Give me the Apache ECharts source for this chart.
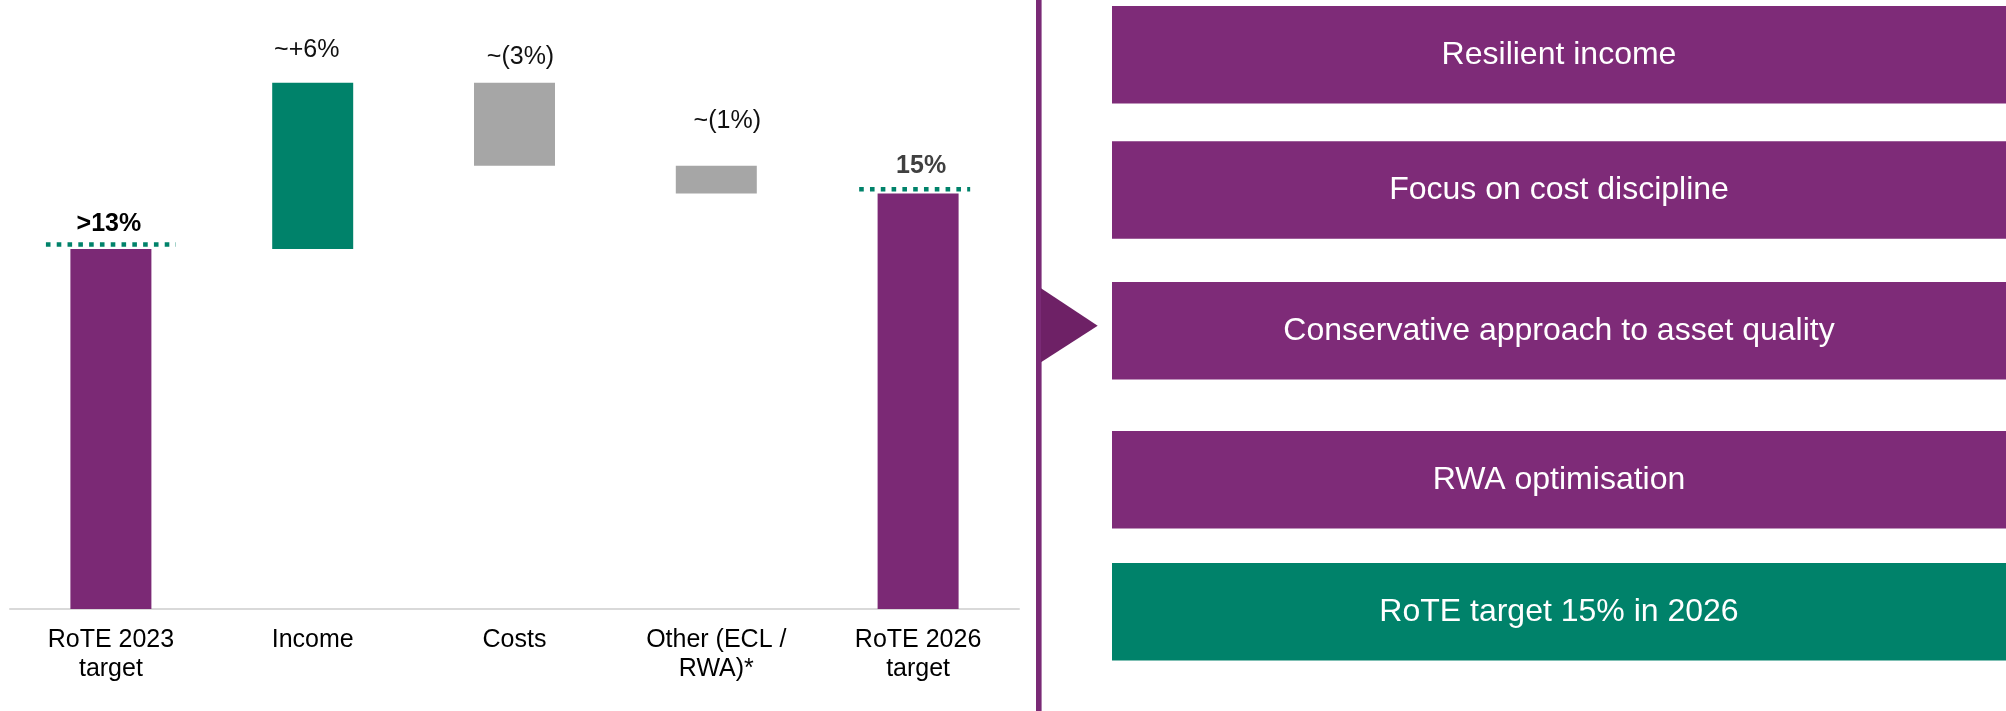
<!DOCTYPE html>
<html>
<head>
<meta charset="utf-8">
<title>RoTE bridge 2023 to 2026</title>
<script src="https://cdn.jsdelivr.net/npm/echarts@6/dist/echarts.min.js"></script>
<style>
  html, body { margin: 0; padding: 0; background: #ffffff; }
  #chart { width: 2006px; height: 711px; }
</style>
</head>
<body>
<div id="chart"></div>
<script>
// Bridge steps: totals are absolute RoTE levels (%), the rest are changes in percentage points
const categories = ['RoTE 2023\ntarget', 'Income', 'Costs', 'Other (ECL /\nRWA)*', 'RoTE 2026\ntarget'];
const changes = [13, 6, -3, -1, 15];
const isTotal = [true, false, false, false, true];
const valueLabels = ['>13%', '~+6%', '~(3%)', '~(1%)', '15%'];

// Levers listed beside the bridge
const drivers = [
  'Resilient income',
  'Focus on cost discipline',
  'Conservative approach to asset quality',
  'RWA optimisation',
  'RoTE target 15% in 2026'
];

const PURPLE = '#7B2975';
const BOX_PURPLE = '#7E2B78';
const GREEN = '#00826A';
const GREY = '#A6A6A6';
const FONT = '"Liberation Sans", Arial, Helvetica, sans-serif';

// Floating-bar geometry: invisible base + visible segment
const bases = [];
const heights = [];
const kinds = [];
let running = 0;
changes.forEach((v, i) => {
  if (isTotal[i]) {
    bases.push(0); heights.push(v); kinds.push('total'); running = v;
  } else if (v >= 0) {
    bases.push(running); heights.push(v); kinds.push('up'); running += v;
  } else {
    running += v; bases.push(running); heights.push(-v); kinds.push('down');
  }
});

const kindColor = { total: PURPLE, up: GREEN, down: GREY };

// Label nudges (px) and label styling
const labelNudge = [[-2, -12], [-6, -20], [6, -13], [11, -32], [3, -15]];
const labelStyle = [
  { fontWeight: 'bold', fontSize: 25, color: '#000000' },
  { fontWeight: 'normal', fontSize: 25, color: '#111111' },
  { fontWeight: 'normal', fontSize: 25, color: '#111111' },
  { fontWeight: 'normal', fontSize: 25, color: '#111111' },
  { fontWeight: 'bold', fontSize: 25, color: '#404040' }
];

// Dotted target markers over the total bars, span as fraction of the category band
const markerSpan = { 0: [-0.322, 0.322], 4: [-0.292, 0.258] };
const markerData = [];
changes.forEach((v, i) => { if (isTotal[i]) markerData.push([i, v]); });

const visibleData = heights.map((h, i) => ({
  value: h,
  itemStyle: { color: kindColor[kinds[i]] },
  label: Object.assign({
    show: true,
    position: 'top',
    distance: 0,
    offset: labelNudge[i],
    formatter: valueLabels[i],
    fontFamily: FONT
  }, labelStyle[i])
}));

// Right-hand panel
const boxX = 1112;
const boxW = 2006 - boxX;
const boxTops = [6, 141.3, 282, 431, 563];
const boxH = 97.5;
const panel = [
  { type: 'rect', shape: { x: 1036, y: 0, width: 5.6, height: 711 }, style: { fill: '#7A2A76' }, silent: true },
  { type: 'polygon', shape: { points: [[1041, 288.3], [1097.7, 325.7], [1041, 362.3]] }, style: { fill: '#6E2166' }, silent: true }
];
drivers.forEach((t, i) => {
  const fill = i === drivers.length - 1 ? GREEN : BOX_PURPLE;
  panel.push({
    type: 'rect',
    shape: { x: boxX, y: boxTops[i], width: boxW, height: boxH },
    style: { fill: fill },
    silent: true
  });
  panel.push({
    type: 'text',
    x: boxX + boxW / 2,
    y: boxTops[i] + boxH / 2 + 0.6,
    style: {
      text: t,
      fill: '#ffffff',
      font: '32px ' + FONT,
      textAlign: 'center',
      textVerticalAlign: 'middle'
    },
    silent: true
  });
});

const chart = echarts.init(document.getElementById('chart'), null, { renderer: 'canvas' });
chart.setOption({
  animation: false,
  backgroundColor: '#ffffff',
  grid: { left: 10, right: 987, top: 55, bottom: 102, containLabel: false },
  xAxis: {
    type: 'category',
    data: categories,
    axisLine: { show: true, lineStyle: { color: '#D9D9D9', width: 2 } },
    axisTick: { show: false },
    axisLabel: {
      color: '#000000',
      fontSize: 25,
      fontFamily: FONT,
      lineHeight: 29.5,
      margin: 16,
      interval: 0
    }
  },
  yAxis: { type: 'value', min: 0, max: 20, show: false, splitLine: { show: false } },
  series: [
    {
      name: 'base',
      type: 'bar',
      stack: 'bridge',
      barWidth: 81,
      silent: true,
      itemStyle: { color: 'rgba(0,0,0,0)' },
      data: bases
    },
    {
      name: 'step',
      type: 'bar',
      stack: 'bridge',
      barWidth: 81,
      data: visibleData
    },
    {
      name: 'target',
      type: 'custom',
      z: 5,
      data: markerData,
      renderItem: function (params, api) {
        const idx = api.value(0);
        const p = api.coord([idx, api.value(1)]);
        const band = api.size([1, 0])[0];
        const span = markerSpan[idx];
        const y = p[1] - 4.3;
        return {
          type: 'line',
          shape: { x1: p[0] + span[0] * band, y1: y, x2: p[0] + span[1] * band, y2: y },
          style: { stroke: GREEN, lineWidth: 4.5, lineDash: [4.6, 6.2], lineCap: 'butt' }
        };
      }
    }
  ],
  graphic: panel
});
</script>
</body>
</html>
